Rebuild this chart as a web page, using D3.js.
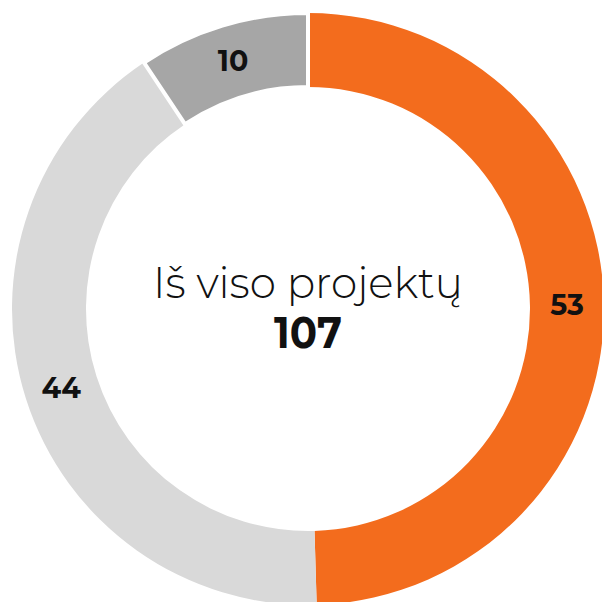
<!DOCTYPE html>
<html>
<head>
<meta charset="utf-8">
<script src="https://cdn.jsdelivr.net/npm/d3@7"></script>
<style>
  body { margin: 0; background: #fff; }
  svg { display: block; }
</style>
</head>
<body>
<svg width="602" height="602"></svg>
<script>
const categories = ['orange', 'light', 'dark']
const values = [53, 44, 10]
const colors = ['#f36c1d', '#d9d9d9', '#a6a6a6']
const centerTitle = 'Iš viso projektų'
const total = d3.sum(values)

const svg = d3.select('svg')
const cx = 308
const cy = 309
const outerR = 296
const innerR = 222

const data = categories.map((c, i) => ({ name: c, value: values[i], color: colors[i] }))

const pie = d3.pie().sort(null).value(d => d.value)
const arc = d3.arc().innerRadius(innerR).outerRadius(outerR)
const labelArc = d3.arc().innerRadius((innerR + outerR) / 2).outerRadius((innerR + outerR) / 2)

const g = svg.append('g').attr('transform', `translate(${cx},${cy})`)

const slices = pie(data)

// dark slice is last, so its white edges sit on top of the neighbours
g.selectAll('path').data(slices)
  .enter().append('path')
    .attr('d', arc)
    .attr('fill', d => d.data.color)
    .attr('stroke', d => d.data.name === 'dark' ? '#fff' : 'none')
    .attr('stroke-width', 4)

g.selectAll('text.val').data(slices)
  .enter().append('text')
    .attr('class', 'val')
    .attr('transform', d => `translate(${labelArc.centroid(d)})`)
    .attr('text-anchor', 'middle')
    .attr('dy', '0.36em')
    .style('font-family', 'Montserrat, "Noto Sans", sans-serif')
    .style('font-weight', 700)
    .style('font-size', '28.5px')
    .style('fill', '#111')
    .text(d => d.data.value)

g.append('text')
  .attr('x', 0)
  .attr('y', -11)
  .attr('text-anchor', 'middle')
  .attr('textLength', 310)
  .attr('lengthAdjust', 'spacingAndGlyphs')
  .style('font-family', 'Montserrat, "Noto Sans", sans-serif')
  .style('font-weight', 300)
  .style('font-size', '43px')
  .style('fill', '#111')
  .text(centerTitle)

g.append('text')
  .attr('x', 0)
  .attr('y', 39)
  .attr('text-anchor', 'middle')
  .attr('textLength', 68)
  .attr('lengthAdjust', 'spacingAndGlyphs')
  .style('font-family', 'Montserrat, "Noto Sans", sans-serif')
  .style('font-weight', 700)
  .style('font-size', '44px')
  .style('fill', '#111')
  .text(total)
</script>
</body>
</html>
